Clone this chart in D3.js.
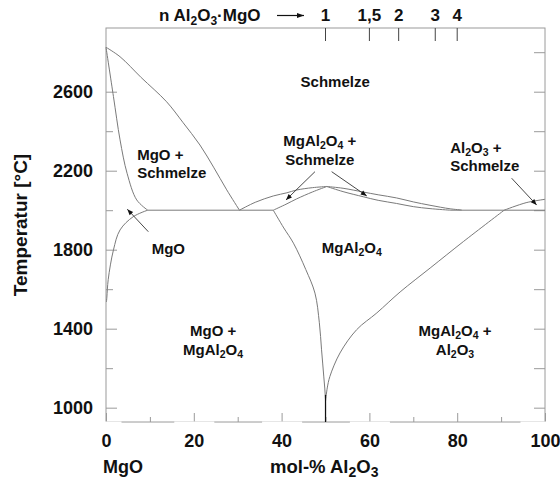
<!DOCTYPE html>
<html>
<head>
<meta charset="utf-8">
<script src="https://cdn.jsdelivr.net/npm/d3@7/dist/d3.min.js"></script>
<style>
  html, body { margin: 0; padding: 0; background: #fff; }
  svg { display: block; }
  text { font-family: "Liberation Sans", Arial, sans-serif; font-weight: bold; fill: #111; }
</style>
</head>
<body>
<svg id="chart" width="560" height="482"></svg>
<script>
// ---------- data (mol-% Al2O3, temperature °C) ----------
const xTicksMajor = [0, 20, 40, 60, 80, 100];
const xTicksMinor = [10, 30, 50, 70, 90];
const yTicksMajor = [1000, 1400, 1800, 2200, 2600];
const yTicksMinor = [1200, 1600, 2000, 2400];
const yTicksRight = [1000, 1200, 1400, 1600, 1800, 2000, 2200, 2400, 2600, 2800];
const nValues = [1, 1.5, 2, 3, 4];
const nLabels = ["1", "1,5", "2", "3", "4"];
const maskedBottomLabels = [0, 20, 40, 60, 100];

const mgoLiquidus = [[0, 2825], [3.2, 2777], [8, 2672], [13.8, 2549], [17.5, 2445], [21.4, 2330], [24.5, 2218], [27.5, 2103], [30.4, 2000]];
const mgoSolidus = [[0, 2825], [1.7, 2575], [3.2, 2356], [4.8, 2187], [7, 2052], [9.5, 2000]];
const mgoSolvus = [[0.1, 1535], [0.2, 1560], [0.5, 1648], [1.7, 1799], [3.2, 1900], [6.2, 1967], [9.5, 2000]];
const eutecticLeft = [[9.5, 2000], [38.1, 2000]];
const eutecticRight = [[78.4, 2000], [100, 2000]];
const spinelLiquidusL = [[30.4, 2000], [34, 2040], [38.1, 2072], [41.2, 2088], [43.4, 2102], [47, 2114], [50.3, 2120]];
const spinelSolidusL = [[38.1, 2000], [41, 2030], [43.4, 2057], [47, 2092], [50.3, 2120]];
const spinelLiquidusR = [[50.3, 2120], [54, 2111], [58.6, 2092], [62, 2078], [66.2, 2062], [70, 2042], [73.8, 2025], [78.4, 2007], [81, 2001]];
const spinelSolidusR = [[50.3, 2120], [54, 2094], [58.6, 2068], [62, 2050], [66.2, 2034], [70, 2018], [73.8, 2008], [78.4, 2000]];
const spinelSolvusL = [[38.1, 2000], [40.5, 1910], [42.7, 1833], [45.5, 1700], [47.6, 1580], [48.6, 1430], [49.1, 1293], [49.6, 1160], [50, 1040], [50, 927.5]];
const spinelSolvusR = [[50, 1030], [50.4, 1100], [51, 1158], [53.3, 1277], [57.1, 1395], [61.7, 1480], [67, 1586], [74, 1710], [81.4, 1841], [90.7, 2000]];
const spinelBase = [[50, 1065], [50, 927.5]];
const al2o3Liquidus = [[90.7, 2000], [95.7, 2038], [100, 2055]];

const curves = [mgoLiquidus, mgoSolidus, mgoSolvus, eutecticLeft, eutecticRight,
  spinelLiquidusL, spinelSolidusL, spinelLiquidusR, spinelSolidusR,
  spinelSolvusL, spinelSolvusR, al2o3Liquidus];

// arrows: [x1, T1, x2, T2]
const arrows = [
  [9.64, 1891, 4.85, 2005],
  [47.6, 2195, 41.0, 2052],
  [51.4, 2195, 59.4, 2072],
  [92.4, 2162, 98.1, 2026]
];

// field labels: lines of segments [text, isSubscript], anchor point (x mol-%, T)
const fieldLabels = [
  { lines: [[["Schmelze"]]], x: 52.2, t: 2625, anchor: "middle", lh: 17 },
  { lines: [[["MgO +"]], [["Schmelze"]]], x: 7.1, t: 2253, anchor: "start", lh: 17.5 },
  { lines: [[["MgAl"], ["2", 1], ["O"], ["4", 1], [" +"]], [["Schmelze"]]], x: 48.7, t: 2324, anchor: "middle", lh: 18.5 },
  { lines: [[["Al"], ["2", 1], ["O"], ["3", 1], [" +"]], [["Schmelze"]]], x: 78.4, t: 2290, anchor: "start", lh: 18.5 },
  { lines: [[["MgO"]]], x: 10.4, t: 1778, anchor: "start", lh: 17 },
  { lines: [[["MgAl"], ["2", 1], ["O"], ["4", 1]]], x: 56.0, t: 1785, anchor: "middle", lh: 17 },
  { lines: [[["MgO +"]], [["MgAl"], ["2", 1], ["O"], ["4", 1]]], x: 24.4, t: 1363, anchor: "middle", lh: 19.5 },
  { lines: [[["MgAl"], ["2", 1], ["O"], ["4", 1], [" +"]], [["Al"], ["2", 1], ["O"], ["3", 1]]], x: 79.5, t: 1363, anchor: "middle", lh: 19.5 }
];

// ---------- drawing ----------
const svg = d3.select("#chart");
const x = d3.scaleLinear().domain([0, 100]).range([106, 545]);
const y = d3.scaleLinear().domain([927.5, 2922.5]).range([422, 28]);
const [x0, x1] = x.range();
const [yb, yt] = y.range();

const defs = svg.append("defs");
defs.append("marker").attr("id", "ah").attr("viewBox", "0 0 10 10")
  .attr("refX", 10).attr("refY", 5).attr("markerWidth", 8).attr("markerHeight", 6)
  .attr("markerUnits", "userSpaceOnUse").attr("orient", "auto")
  .append("path").attr("d", "M0,1 L10,5 L0,9 Z").attr("fill", "#111");
defs.append("marker").attr("id", "ah2").attr("viewBox", "0 0 10 10")
  .attr("refX", 10).attr("refY", 5).attr("markerWidth", 9).attr("markerHeight", 7)
  .attr("markerUnits", "userSpaceOnUse").attr("orient", "auto")
  .append("path").attr("d", "M0,1.5 L10,5 L0,8.5 Z").attr("fill", "#111");

const frameColor = "#9a9a9a";
const fontStack = "'Liberation Sans', Arial, sans-serif";

function styleAxis(g) {
  g.select(".domain").remove();
  g.selectAll(".tick line").attr("stroke", frameColor).attr("stroke-width", 1);
  g.selectAll(".tick text").attr("font-family", fontStack).attr("font-weight", "bold").attr("fill", "#111");
}

// frame
svg.append("rect").attr("x", x0).attr("y", yt).attr("width", x1 - x0).attr("height", yb - yt)
  .attr("fill", "none").attr("stroke", frameColor).attr("stroke-width", 1);

// bottom axis (ticks inward)
const gBottom = svg.append("g").attr("transform", `translate(0,${yb})`);
gBottom.call(d3.axisBottom(x).tickValues(xTicksMajor).tickSize(-9).tickPadding(12).tickFormat(d3.format("d")))
  .attr("font-size", 18).call(styleAxis);
svg.append("g").attr("transform", `translate(0,${yb})`)
  .call(d3.axisBottom(x).tickValues(xTicksMinor).tickSize(-5).tickFormat(""))
  .call(styleAxis);

// white label boxes breaking the bottom frame (as in reference)
gBottom.selectAll(".tick").filter(d => maskedBottomLabels.includes(d)).each(function () {
  const t = d3.select(this).select("text");
  const bb = t.node().getBBox();
  d3.select(this).insert("rect", "text")
    .attr("x", bb.x - 10).attr("y", -0.5).attr("width", bb.width + 20).attr("height", bb.height + 12)
    .attr("fill", "#fff");
});
gBottom.raise();

// left axis
svg.append("g").attr("transform", `translate(${x0},0)`)
  .call(d3.axisLeft(y).tickValues(yTicksMajor).tickSize(-11).tickPadding(13).tickFormat(d3.format("d")))
  .attr("font-size", 18).call(styleAxis);
svg.append("g").attr("transform", `translate(${x0},0)`)
  .call(d3.axisLeft(y).tickValues(yTicksMinor).tickSize(-7).tickFormat(""))
  .call(styleAxis);

// right axis
svg.append("g").attr("transform", `translate(${x1},0)`)
  .call(d3.axisRight(y).tickValues(yTicksRight).tickSize(-11).tickFormat(""))
  .call(styleAxis);

// top: n Al2O3·MgO ticks
const nx = n => x(100 * n / (n + 1));
const gTop = svg.append("g");
gTop.selectAll("line").data(nValues).join("line")
  .attr("x1", d => nx(d)).attr("x2", d => nx(d))
  .attr("y1", yt).attr("y2", yt + 13)
  .attr("stroke", "#444").attr("stroke-width", 1);
gTop.selectAll("text").data(nValues).join("text")
  .attr("x", d => nx(d)).attr("y", 20.5)
  .attr("text-anchor", "middle").attr("font-size", 17)
  .text((d, i) => nLabels[i]);

// phase boundaries
const lineGen = d3.line().x(d => x(d[0])).y(d => y(d[1])).curve(d3.curveCatmullRom.alpha(0.5));
svg.append("g").selectAll("path").data(curves).join("path")
  .attr("d", lineGen).attr("fill", "none").attr("stroke", "#7a7a7a").attr("stroke-width", 1);
svg.append("path").datum(spinelBase).attr("d", d3.line().x(d => x(d[0])).y(d => y(d[1])))
  .attr("fill", "none").attr("stroke", "#111").attr("stroke-width", 1.2);

// arrows
svg.append("g").selectAll("line").data(arrows).join("line")
  .attr("x1", d => x(d[0])).attr("y1", d => y(d[1]))
  .attr("x2", d => x(d[2])).attr("y2", d => y(d[3]))
  .attr("stroke", "#333").attr("stroke-width", 0.9).attr("marker-end", "url(#ah)");

// field labels (one text element per line)
const gLab = svg.append("g").attr("font-size", 15);
fieldLabels.forEach(L => {
  L.lines.forEach((segs, li) => {
    const t = gLab.append("text").attr("text-anchor", L.anchor)
      .attr("x", x(L.x)).attr("y", y(L.t) + li * L.lh);
    let lowered = false;
    segs.forEach(s => {
      const sp = t.append("tspan").text(s[0]);
      if (s[1]) {
        sp.attr("font-size", 10.5);
        if (!lowered) { sp.attr("dy", 3); lowered = true; }
      } else if (lowered) {
        sp.attr("dy", -3); lowered = false;
      }
    });
  });
});

// top title "n Al2O3·MgO  →"
const tt = svg.append("text").attr("x", 159).attr("y", 20.5).attr("font-size", 17);
tt.append("tspan").text("n Al");
tt.append("tspan").text("2").attr("font-size", 12).attr("dy", 4);
tt.append("tspan").text("O").attr("dy", -4);
tt.append("tspan").text("3").attr("font-size", 12).attr("dy", 4);
tt.append("tspan").text("·MgO").attr("dy", -4);
svg.append("line").attr("x1", 277).attr("x2", 304).attr("y1", 15.5).attr("y2", 15.5)
  .attr("stroke", "#111").attr("stroke-width", 1.2).attr("marker-end", "url(#ah2)");

// axis titles
svg.append("text").attr("x", 103).attr("y", 473).attr("font-size", 18).text("MgO");
const xt = svg.append("text").attr("x", 270).attr("y", 473).attr("font-size", 18.5);
xt.append("tspan").text("mol-% Al");
xt.append("tspan").text("2").attr("font-size", 14).attr("dy", 4);
xt.append("tspan").text("O").attr("dy", -4);
xt.append("tspan").text("3").attr("font-size", 14).attr("dy", 4);

svg.append("text").attr("transform", `translate(27,${(yt + yb) / 2}) rotate(-90)`)
  .attr("text-anchor", "middle").attr("font-size", 19).text("Temperatur [°C]");
</script>
</body>
</html>
